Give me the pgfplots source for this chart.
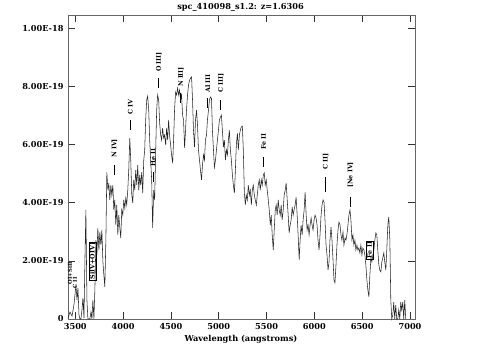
\documentclass[border=0pt]{standalone}
\usepackage{fontspec}
\setmainfont{DejaVu Serif}
\usepackage{pgfplots}
\pgfplotsset{compat=1.18}
\newcommand{\tfont}{\fontsize{8.2}{9}\selectfont\bfseries}
\newcommand{\lfont}{\fontsize{6.3}{7}\selectfont\bfseries}
\newcommand{\sfont}{\fontsize{5.3}{6}\selectfont\bfseries}
\newcommand{\ident}[3]{\rule[0.33em]{#1pt}{0.6pt}\hspace{#2pt}#3}
\begin{document}
\begin{tikzpicture}[x=1pt,y=1pt]
\useasboundingbox (-68,-39) rectangle (415,319);
\begin{axis}[
  at={(0,0)}, anchor=south west, scale only axis,
  width=347pt, height=304pt,
  xmin=3424, xmax=7052, ymin=0, ymax=10.45,
  xtick={3500,4000,4500,5000,5500,6000,6500,7000},
  xticklabels={3500,4000,4500,5000,5500,6000,6500,7000},
  ytick={0,2,4,6,8,10},
  yticklabels={0,2.00E-19,4.00E-19,6.00E-19,8.00E-19,1.00E-18},
  tick align=inside, major tick length=7pt,
  tick style={black!80, line width=0.6pt},
  ticklabel style={font=\tfont},
  xticklabel style={yshift=-1pt},
  yticklabel style={xshift=-1pt},
  axis line style={draw=black!60, line width=0.8pt},
  clip=false,
]
\addplot[black!85, line width=0.55pt] table[row sep=\\] {
x y\\
3424 0.03\\ 3445 0.24\\ 3466 0.10\\ 3486 0.48\\ 3507 1.17\\ 3518 0.65\\ 3528 1.07\\ 3539 0.14\\
3549 0\\ 3559 0\\ 3570 0.31\\ 3580 0.72\\ 3591 0.03\\ 3601 2.03\\ 3611 3.75\\ 3622 0.65\\
3632 0\\ 3643 0\\ 3653 0\\ 3664 0.24\\ 3674 0\\ 3684 0.65\\ 3695 0\\ 3705 1.00\\
3716 2.71\\ 3726 2.20\\ 3736 3.13\\ 3747 2.37\\ 3757 2.99\\ 3768 2.54\\ 3778 3.06\\ 3789 1.96\\
3799 1.51\\ 3809 1.10\\ 3820 2.71\\ 3830 5.05\\ 3841 4.43\\ 3851 4.67\\ 3861 4.09\\ 3872 4.60\\
3882 4.26\\ 3893 4.60\\ 3903 3.75\\ 3913 4.09\\ 3924 3.23\\ 3934 3.92\\ 3945 2.89\\ 3955 3.57\\
3966 3.13\\ 3976 2.78\\ 3986 3.75\\ 3997 3.57\\ 4007 4.09\\ 4018 3.81\\ 4028 4.16\\ 4038 3.92\\
4049 4.43\\ 4059 5.12\\ 4070 6.22\\ 4080 5.46\\ 4091 4.26\\ 4101 3.99\\ 4111 4.78\\ 4122 4.43\\
4132 5.12\\ 4143 4.60\\ 4153 5.29\\ 4164 4.43\\ 4174 4.95\\ 4184 4.60\\ 4195 5.05\\ 4205 4.33\\
4216 5.46\\ 4226 5.81\\ 4236 6.84\\ 4247 7.53\\ 4257 7.66\\ 4268 7.18\\ 4278 6.15\\ 4288 5.46\\
4299 4.78\\ 4309 3.13\\ 4320 4.43\\ 4330 4.09\\ 4341 5.81\\ 4351 7.18\\ 4361 7.70\\ 4372 7.53\\
4382 6.74\\ 4393 6.32\\ 4403 6.15\\ 4413 6.56\\ 4424 6.22\\ 4434 6.32\\ 4445 5.98\\ 4455 6.56\\
4466 6.15\\ 4476 6.84\\ 4486 6.32\\ 4497 5.98\\ 4507 5.64\\ 4518 5.36\\ 4528 6.15\\ 4538 7.18\\
4549 7.80\\ 4559 7.70\\ 4570 7.94\\ 4580 7.70\\ 4590 7.87\\ 4601 7.53\\ 4611 7.70\\ 4622 7.01\\
4632 6.84\\ 4643 5.88\\ 4653 6.49\\ 4663 7.18\\ 4674 7.70\\ 4684 8.04\\ 4695 8.21\\ 4705 8.28\\
4716 8.32\\ 4726 7.53\\ 4736 6.49\\ 4747 5.91\\ 4757 6.84\\ 4768 7.18\\ 4778 6.67\\ 4788 5.81\\
4799 5.46\\ 4809 5.12\\ 4820 4.78\\ 4830 5.29\\ 4841 5.64\\ 4851 5.46\\ 4861 6.15\\ 4872 6.32\\
4882 6.84\\ 4893 7.18\\ 4903 7.53\\ 4913 7.63\\ 4924 7.59\\ 4934 6.49\\ 4945 5.81\\ 4955 5.22\\
4966 5.46\\ 4976 5.81\\ 4986 6.15\\ 4997 6.49\\ 5007 6.84\\ 5018 6.94\\ 5028 7.01\\ 5038 6.49\\
5049 5.91\\ 5059 6.15\\ 5070 5.46\\ 5080 5.81\\ 5091 5.64\\ 5101 6.15\\ 5111 6.49\\ 5122 5.81\\
5132 5.46\\ 5143 4.95\\ 5153 4.60\\ 5164 4.33\\ 5174 5.12\\ 5184 5.98\\ 5195 6.39\\ 5205 5.81\\
5216 6.32\\ 5226 6.49\\ 5236 6.60\\ 5247 6.63\\ 5257 5.81\\ 5268 4.33\\ 5278 3.92\\ 5288 4.26\\
5299 4.09\\ 5309 4.60\\ 5320 4.26\\ 5330 4.43\\ 5341 3.92\\ 5351 4.43\\ 5361 4.60\\ 5372 4.26\\
5382 4.09\\ 5393 3.92\\ 5403 4.26\\ 5413 4.60\\ 5424 4.78\\ 5434 4.43\\ 5445 4.78\\ 5455 4.60\\
5466 4.95\\ 5476 5.02\\ 5486 4.60\\ 5497 4.78\\ 5507 4.43\\ 5518 4.09\\ 5528 3.75\\ 5539 3.23\\
5549 3.57\\ 5559 2.89\\ 5570 2.37\\ 5580 3.06\\ 5591 3.75\\ 5601 3.92\\ 5611 3.57\\ 5622 4.09\\
5632 3.75\\ 5643 3.57\\ 5653 3.92\\ 5663 3.40\\ 5674 3.75\\ 5684 4.26\\ 5695 4.43\\ 5705 4.67\\
5716 4.09\\ 5726 3.57\\ 5736 2.96\\ 5747 3.23\\ 5757 3.40\\ 5768 3.85\\ 5778 3.57\\ 5788 3.75\\
5799 3.92\\ 5809 4.19\\ 5820 3.57\\ 5830 2.89\\ 5841 2.03\\ 5851 2.71\\ 5861 3.23\\ 5872 2.89\\
5882 3.40\\ 5893 3.75\\ 5903 4.36\\ 5914 3.57\\ 5924 3.06\\ 5934 3.23\\ 5945 2.89\\ 5955 3.23\\
5966 3.47\\ 5976 3.23\\ 5986 3.06\\ 5997 3.40\\ 6007 3.57\\ 6018 3.47\\ 6028 3.23\\ 6038 2.71\\
6049 2.37\\ 6059 2.89\\ 6070 3.57\\ 6080 3.92\\ 6091 4.09\\ 6101 4.02\\ 6111 3.40\\ 6122 2.54\\
6132 2.20\\ 6143 1.68\\ 6153 1.96\\ 6163 2.71\\ 6174 3.16\\ 6184 2.71\\ 6195 2.03\\ 6205 1.34\\
6215 1.24\\ 6226 1.86\\ 6236 2.54\\ 6247 3.06\\ 6257 3.33\\ 6268 3.23\\ 6278 2.89\\ 6288 2.71\\
6299 2.99\\ 6309 2.54\\ 6320 2.78\\ 6330 2.71\\ 6340 2.89\\ 6351 3.23\\ 6361 3.57\\ 6372 3.75\\
6382 3.40\\ 6393 2.71\\ 6403 2.89\\ 6413 2.54\\ 6424 2.71\\ 6434 2.37\\ 6445 2.54\\ 6455 2.37\\
6465 2.44\\ 6476 2.27\\ 6486 2.54\\ 6497 2.20\\ 6507 2.44\\ 6518 2.37\\ 6528 2.20\\ 6538 1.86\\
6549 1.34\\ 6559 1.00\\ 6570 0.76\\ 6580 1.51\\ 6591 2.10\\ 6601 1.96\\ 6611 2.20\\ 6622 2.37\\
6632 2.71\\ 6643 2.96\\ 6653 2.89\\ 6663 2.37\\ 6674 1.86\\ 6684 1.68\\ 6695 1.62\\ 6705 1.96\\
6715 2.10\\ 6726 2.27\\ 6736 1.96\\ 6747 1.68\\ 6757 2.37\\ 6768 3.23\\ 6778 3.51\\ 6789 2.71\\
6799 0.65\\ 6809 0\\ 6820 0.14\\ 6830 0.58\\ 6840 0\\ 6851 0.48\\ 6861 0\\ 6872 0\\
6882 0.31\\ 6893 0\\ 6903 0.58\\ 6913 0.31\\ 6924 0.58\\ 6934 0\\ 6945 0.65\\ 6955 0\\
};
% line identifications
\begin{scope}[every node/.style={rotate=90, anchor=west, inner sep=0pt, font=\lfont}]
\node at (axis cs:3909,4.95) {\ident{10}{7}{N IV]}};
\node at (axis cs:4075,6.49) {\ident{10}{5}{C IV}};
\node at (axis cs:4314,4.71) {\ident{10}{5}{He II}};
\node at (axis cs:4375,7.94) {\ident{10}{6}{O III]}};
\node at (axis cs:4604,7.42) {\ident{10}{6}{N III]}};
\node at (axis cs:4885,7.25) {\ident{10}{5}{Al III}};
\node at (axis cs:5022,7.18) {\ident{10}{7}{C III]}};
\node at (axis cs:5470,5.22) {\ident{10}{7}{Fe II}};
\node at (axis cs:6119,4.36) {\ident{15}{7}{C II]}};
\node at (axis cs:6377,3.85) {\ident{10}{9}{[Ne IV]}};
\end{scope}
\node[rotate=90, draw, inner sep=1pt, font=\lfont, line width=0.5pt] at (axis cs:3683,1.99) {SiIV+OIV]};
\node[rotate=90, draw, inner sep=1pt, font=\lfont, line width=0.5pt] at (axis cs:6577,2.37) {Fe II};
\node[rotate=90, inner sep=0pt, font=\sfont] at (axis cs:3445,1.58) {OI+SiII};
\node[rotate=90, inner sep=0pt, font=\sfont] at (axis cs:3497,1.24) {C II};
\end{axis}
\node[font=\tfont] at (172.5,312) {spc\_410098\_s1.2: z=1.6306};
\node[font=\tfont] at (173,-20) {Wavelength (angstroms)};
\end{tikzpicture}
\end{document}
